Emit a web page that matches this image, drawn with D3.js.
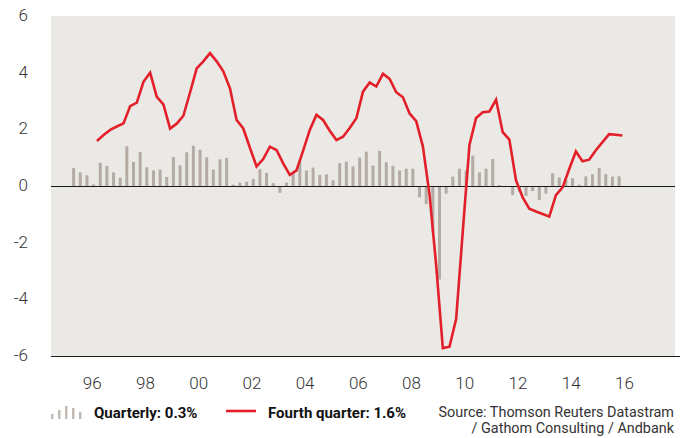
<!DOCTYPE html>
<html>
<head>
<meta charset="utf-8">
<script src="https://cdn.jsdelivr.net/npm/d3@7"></script>
<style>
  body { margin: 0; background: #fff; }
  svg { display: block; font-family: Roboto, 'Noto Sans', sans-serif; }
  .tick-label { font-size: 17px; font-weight: 300; fill: #333; }
  .legend-label { font-size: 15px; font-weight: 700; fill: #111; }
  .source { font-size: 14.4px; fill: #333; }
</style>
</head>
<body>
<svg id="chart"></svg>
<script>
'use strict';

// quarterly growth (%), one bar per quarter from 1995 Q1
var firstYear = 1995;
var quarterly = [
  0.64, 0.48, 0.38, 0.06, 0.82, 0.71, 0.48, 0.29, 1.40, 0.85,
  1.20, 0.66, 0.55, 0.58, 0.32, 1.02, 0.73, 1.19, 1.42, 1.28,
  1.01, 0.58, 0.94, 0.99, 0.05, 0.12, 0.15, 0.25, 0.59, 0.46,
  0.10, -0.24, 0.12, 0.49, 0.87, 0.55, 0.65, 0.39, 0.41, 0.20,
  0.81, 0.86, 0.69, 1.00, 1.21, 0.72, 1.24, 0.84, 0.71, 0.55,
  0.61, 0.61, -0.40, -0.64, -1.60, -3.30, -0.27, 0.33, 0.61, 0.55,
  1.07, 0.48, 0.61, 0.95, 0.03, 0.00, -0.32, -0.20, -0.35, -0.18,
  -0.49, -0.27, 0.45, 0.30, 0.22, 0.27, 0.05, 0.34, 0.41, 0.64,
  0.42, 0.33, 0.34
];

// growth over four quarters (%), starts at 1995 Q4
var fourQuarterStart = 3;
var fourQuarter = [
  1.59, 1.80, 1.98, 2.10, 2.21, 2.82, 2.94, 3.68, 4.00, 3.15,
  2.88, 2.03, 2.20, 2.48, 3.30, 4.15, 4.40, 4.69, 4.40, 4.05,
  3.45, 2.33, 2.03, 1.35, 0.69, 0.95, 1.39, 1.27, 0.80, 0.39,
  0.55, 1.25, 1.98, 2.51, 2.33, 1.95, 1.62, 1.74, 2.05, 2.39,
  3.33, 3.65, 3.51, 3.96, 3.78, 3.31, 3.13, 2.56, 2.29, 1.40,
  -0.30, -2.80, -5.72, -5.67, -4.70, -1.60, 1.45, 2.40, 2.60, 2.63,
  3.05, 1.90, 1.64, 0.20, -0.40, -0.80, -0.90, -0.99, -1.08, -0.32,
  -0.05, 0.60, 1.22, 0.87, 0.93, 1.26, 1.55, 1.83, 1.81, 1.78
];

var yTicks = [-6, -4, -2, 0, 2, 4, 6];
var xTickYears = [1996, 1998, 2000, 2002, 2004, 2006, 2008, 2010, 2012, 2014, 2016];
var xTickLabels = ['96', '98', '00', '02', '04', '06', '08', '10', '12', '14', '16'];

var legendItems = ['Quarterly: 0.3%', 'Fourth quarter: 1.6%'];
var sourceLines = ['Source: Thomson Reuters Datastram', '/ Gathom Consulting / Andbank'];

var width = 680;
var height = 438;
var plot = {left: 51, right: 675, top: 16, bottom: 356};

var svg = d3.select('#chart')
    .attr('width', width)
    .attr('height', height);

var x = d3.scaleLinear()
    .domain([1994.15, 2017.6])
    .range([plot.left, plot.right]);

var y = d3.scaleLinear()
    .domain([-6, 6])
    .range([plot.bottom, plot.top]);

function quarterTime(i) { return firstYear + i / 4; }

// plot background
svg.append('rect')
    .attr('x', plot.left)
    .attr('y', plot.top)
    .attr('width', plot.right - plot.left)
    .attr('height', plot.bottom - plot.top)
    .attr('fill', '#ebe9e5');

// quarterly bars
var barWidth = 3;
svg.append('g')
    .selectAll('rect')
    .data(quarterly)
  .enter()
  .append('rect')
    .attr('x', function(d, i) { return x(quarterTime(i)) - barWidth / 2; })
    .attr('y', function(d) { return y(Math.max(0, d)); })
    .attr('width', barWidth)
    .attr('height', function(d) { return Math.abs(y(d) - y(0)); })
    .attr('fill', '#b3aba4');

// zero line and bottom axis line
svg.append('line')
    .attr('x1', plot.left).attr('x2', plot.right)
    .attr('y1', Math.round(y(0)) + 0.5).attr('y2', Math.round(y(0)) + 0.5)
    .attr('stroke', '#1a1a1a').attr('stroke-width', 1);
svg.append('line')
    .attr('x1', plot.left).attr('x2', width)
    .attr('y1', y(-6) + 0.5).attr('y2', y(-6) + 0.5)
    .attr('stroke', '#1a1a1a').attr('stroke-width', 1.2);

// four-quarter line, drawn half a quarter to the right of the bars
var line = d3.line()
    .x(function(d, i) { return x(quarterTime(i + fourQuarterStart) + 0.125); })
    .y(function(d) { return y(d); });

svg.append('path')
    .datum(fourQuarter)
    .attr('d', line)
    .attr('fill', 'none')
    .attr('stroke', '#e3202a')
    .attr('stroke-width', 2.6)
    .attr('stroke-linejoin', 'miter');

// y axis labels
svg.append('g')
    .selectAll('text')
    .data(yTicks)
  .enter()
  .append('text')
    .attr('class', 'tick-label')
    .attr('x', 28)
    .attr('y', function(d) { return y(d) + 5; })
    .attr('text-anchor', 'end')
    .text(function(d) { return d; });

// x axis labels, nudged left as in the original
svg.append('g')
    .selectAll('text')
    .data(xTickYears)
  .enter()
  .append('text')
    .attr('class', 'tick-label')
    .attr('x', function(d) { return x(d) - 8; })
    .attr('y', 389)
    .attr('text-anchor', 'middle')
    .text(function(d, i) { return xTickLabels[i]; });

// legend
var legend = svg.append('g');
var iconBars = [5, 9, 13, 11, 7];
legend.selectAll('rect')
    .data(iconBars)
  .enter()
  .append('rect')
    .attr('x', function(d, i) { return 51 + i * 7; })
    .attr('y', function(d) { return 419 - d; })
    .attr('width', 2.5)
    .attr('height', function(d) { return d; })
    .attr('fill', '#c2bbb4');
legend.append('text')
    .attr('class', 'legend-label')
    .attr('x', 94).attr('y', 418)
    .text(legendItems[0]);
legend.append('line')
    .attr('x1', 226).attr('x2', 256)
    .attr('y1', 411).attr('y2', 411)
    .attr('stroke', '#e3202a').attr('stroke-width', 2.6);
legend.append('text')
    .attr('class', 'legend-label')
    .attr('x', 268).attr('y', 418)
    .text(legendItems[1]);

// source note, right aligned
svg.append('g')
    .selectAll('text')
    .data(sourceLines)
  .enter()
  .append('text')
    .attr('class', 'source')
    .attr('x', 674)
    .attr('y', function(d, i) { return 417 + i * 16; })
    .attr('text-anchor', 'end')
    .text(function(d) { return d; });
</script>
</body>
</html>
